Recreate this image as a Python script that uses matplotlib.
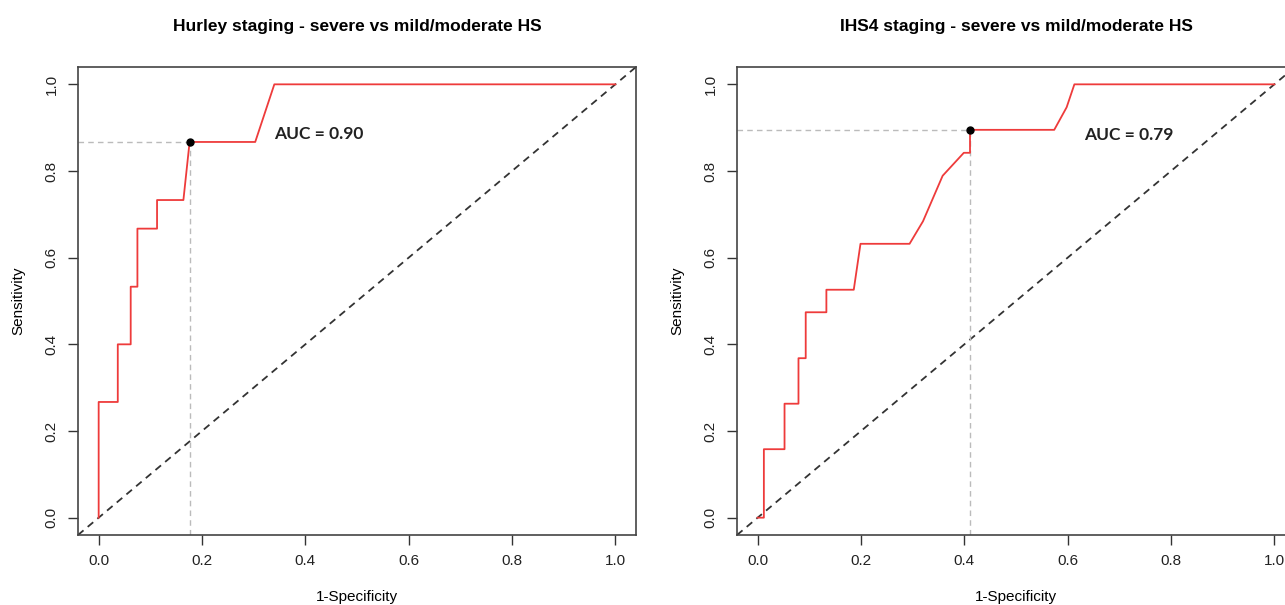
import matplotlib
matplotlib.use('Agg')
import matplotlib.pyplot as plt

# ROC data (x = 1-specificity, y = sensitivity)
titles = ['Hurley staging - severe vs mild/moderate HS',
          'IHS4 staging - severe vs mild/moderate HS']
auc_labels = ['AUC = 0.90', 'AUC = 0.79']

fpr_hurley = [0, 0, 0.037, 0.037, 0.062, 0.062, 0.075, 0.075, 0.113, 0.113,
              0.164, 0.176, 0.303, 0.340, 1.0]
tpr_hurley = [0, 0.267, 0.267, 0.400, 0.400, 0.533, 0.533, 0.667, 0.667, 0.733,
              0.733, 0.867, 0.867, 1.0, 1.0]

fpr_ihs4 = [0, 0.012, 0.012, 0.052, 0.052, 0.079, 0.079, 0.093, 0.093, 0.133,
            0.133, 0.186, 0.199, 0.294, 0.320, 0.358, 0.399, 0.411, 0.411,
            0.574, 0.598, 0.613, 1.0]
tpr_ihs4 = [0, 0, 0.158, 0.158, 0.263, 0.263, 0.368, 0.368, 0.474, 0.474,
            0.526, 0.526, 0.632, 0.632, 0.684, 0.789, 0.842, 0.842, 0.895,
            0.895, 0.947, 1.0, 1.0]

# best cut-off points
best_hurley = (0.176, 0.867)
best_ihs4 = (0.411, 0.895)

# where the AUC text sits (data coords)
auc_pos = [(0.34, 0.885), (0.632, 0.883)]

ticks = [0.0, 0.2, 0.4, 0.6, 0.8, 1.0]

plt.rcParams['font.family'] = ['Liberation Sans', 'DejaVu Sans']

fig = plt.figure(figsize=(12.85, 6.05), dpi=100)
ax_w, ax_h = 558 / 1285, 468 / 605
axes = [fig.add_axes([78 / 1285, 70 / 605, ax_w, ax_h]),
        fig.add_axes([737 / 1285, 70 / 605, ax_w, ax_h])]

curves = [(fpr_hurley, tpr_hurley, best_hurley), (fpr_ihs4, tpr_ihs4, best_ihs4)]

for i, ax in enumerate(axes):
    fpr, tpr, best = curves[i]
    ax.set_xlim(-0.04, 1.04)
    ax.set_ylim(-0.04, 1.04)

    # chance line
    ax.axline((0, 0), (1, 1), color='#333333', ls=(0, (4, 3)), lw=1.3)
    # cut-off guide lines
    ax.plot([-0.04, best[0]], [best[1], best[1]], color='#bbbbbb', ls=(0, (4, 3)), lw=1.0)
    ax.plot([best[0], best[0]], [-0.04, best[1]], color='#bbbbbb', ls=(0, (4, 3)), lw=1.0)
    # ROC curve
    ax.plot(fpr, tpr, color='#ee3b3b', lw=1.3)
    ax.plot(best[0], best[1], 'o', color='black', ms=5)

    ax.text(auc_pos[i][0], auc_pos[i][1], auc_labels[i], family=['Lato', 'DejaVu Sans'],
            fontweight='bold', fontsize=12.5, ha='left', va='center', color='#222222')

    ax.set_title(titles[i], fontsize=12.5, fontweight='bold', pad=26)
    ax.set_xticks(ticks)
    ax.set_yticks(ticks)
    ax.set_xticklabels(['%.1f' % t for t in ticks])
    ax.set_yticklabels(['%.1f' % t for t in ticks], rotation=90, va='center')
    ax.tick_params(direction='out', length=7, width=1, labelsize=11, pad=7,
                   color='#333333', labelcolor='#222222')
    ax.set_xlabel('1-Specificity', fontsize=11)
    ax.set_ylabel('Sensitivity', fontsize=11)
    ax.xaxis.set_label_coords(0.5, -0.1175)
    ax.yaxis.set_label_coords(-0.095, 0.5)
    for s in ax.spines.values():
        s.set_color('#444444')
        s.set_linewidth(1.2)

fig.savefig('out.png', dpi=100)
